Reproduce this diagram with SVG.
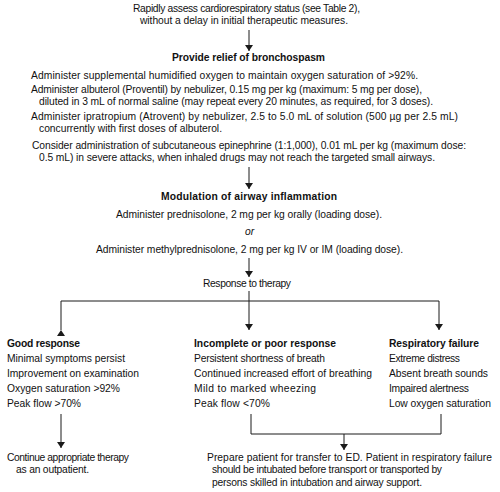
<svg xmlns="http://www.w3.org/2000/svg" width="500" height="492" viewBox="0 0 500 492">
<defs>
<marker id="ah" viewBox="0 0 6 8" refX="6" refY="4" markerWidth="6" markerHeight="8" orient="auto" markerUnits="userSpaceOnUse">
<path d="M0,0 L6,4 L0,8 Z" fill="#1a1a1a"/>
</marker>
<style>
text{font-family:"Liberation Sans",Arial,sans-serif;font-size:10.3px;fill:#111}
.b{font-weight:bold}
.i{font-style:italic}
.c{fill:none;stroke:#1a1a1a;stroke-width:1}
</style>
</defs>
<rect width="500" height="492" fill="#fff"/>
<g id="assess">
<text x="133" y="12" textLength="227">Rapidly assess cardiorespiratory status (see Table 2),</text>
<text x="140" y="24" textLength="208">without a delay in initial therapeutic measures.</text>
</g>
<g id="bronchospasm">
<text class="b" x="172" y="61" textLength="153">Provide relief of bronchospasm</text>
<text x="31" y="79" textLength="387">Administer supplemental humidified oxygen to maintain oxygen saturation of &gt;92%.</text>
<text x="31" y="93" textLength="391">Administer albuterol (Proventil) by nebulizer, 0.15 mg per kg (maximum: 5 mg per dose),</text>
<text x="39" y="105" textLength="394">diluted in 3 mL of normal saline (may repeat every 20 minutes, as required, for 3 doses).</text>
<text x="31" y="120" textLength="427">Administer ipratropium (Atrovent) by nebulizer, 2.5 to 5.0 mL of solution (500 µg per 2.5 mL)</text>
<text x="39" y="132" textLength="183">concurrently with first doses of albuterol.</text>
<text x="32" y="149" textLength="434">Consider administration of subcutaneous epinephrine (1:1,000), 0.01 mL per kg (maximum dose:</text>
<text x="39" y="161" textLength="396">0.5 mL) in severe attacks, when inhaled drugs may not reach the targeted small airways.</text>
</g>
<g id="inflammation">
<text class="b" x="161" y="200" textLength="176">Modulation of airway inflammation</text>
<text x="116" y="218" textLength="266">Administer prednisolone, 2 mg per kg orally (loading dose).</text>
<text class="i" x="245" y="235">or</text>
<text x="96" y="253" textLength="307">Administer methylprednisolone, 2 mg per kg IV or IM (loading dose).</text>
</g>
<g id="response">
<text x="203" y="287" textLength="88">Response to therapy</text>
</g>
<g id="good">
<text class="b" x="7" y="347" textLength="73">Good response</text>
<text x="7" y="362" textLength="118">Minimal symptoms persist</text>
<text x="7" y="377" textLength="132">Improvement on examination</text>
<text x="7" y="392" textLength="113">Oxygen saturation &gt;92%</text>
<text x="7" y="407" textLength="74">Peak flow &gt;70%</text>
</g>
<g id="poor">
<text class="b" x="194" y="347" textLength="142">Incomplete or poor response</text>
<text x="194" y="362" textLength="131">Persistent shortness of breath</text>
<text x="194" y="377" textLength="178">Continued increased effort of breathing</text>
<text x="194" y="392" textLength="122">Mild to marked wheezing</text>
<text x="194" y="407" textLength="76">Peak flow &lt;70%</text>
</g>
<g id="failure">
<text class="b" x="389" y="347" textLength="90">Respiratory failure</text>
<text x="389" y="362" textLength="71">Extreme distress</text>
<text x="389" y="377" textLength="99">Absent breath sounds</text>
<text x="389" y="392" textLength="80">Impaired alertness</text>
<text x="389" y="407" textLength="102">Low oxygen saturation</text>
</g>
<g id="outpatient">
<text x="7" y="461" textLength="122">Continue appropriate therapy</text>
<text x="16" y="473" textLength="73">as an outpatient.</text>
</g>
<g id="transfer">
<text x="207" y="461" textLength="285">Prepare patient for transfer to ED. Patient in respiratory failure</text>
<text x="212" y="473" textLength="230">should be intubated before transport or transported by</text>
<text x="212" y="486" textLength="210">persons skilled in intubation and airway support.</text>
</g>
<g id="connectors">
<line class="c" x1="249" y1="30" x2="249" y2="51" marker-end="url(#ah)"/>
<line class="c" x1="249" y1="167" x2="249" y2="189" marker-end="url(#ah)"/>
<line class="c" x1="249" y1="258" x2="249" y2="277" marker-end="url(#ah)"/>
<line class="c" x1="249" y1="291" x2="249" y2="330" marker-end="url(#ah)"/>
<polyline class="c" points="61,330 61,301 439,301 439,330" marker-start="url(#ah)" marker-end="url(#ah)"/>
<line class="c" x1="61" y1="414" x2="61" y2="448" marker-end="url(#ah)"/>
<polyline class="c" points="251,414 251,434 441,434 441,414"/>
<line class="c" x1="344" y1="434" x2="344" y2="450" marker-end="url(#ah)"/>
</g>
</svg>
